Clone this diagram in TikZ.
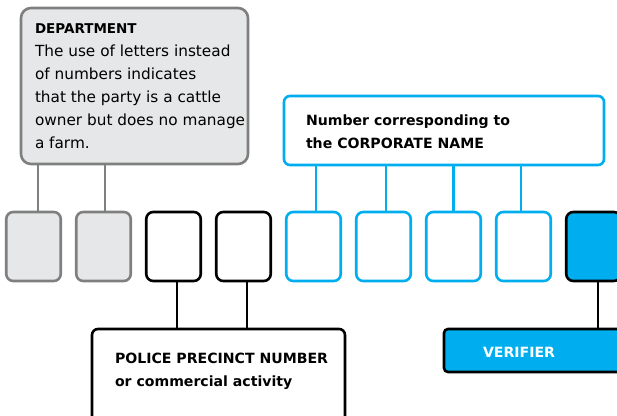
\documentclass[tikz,border=0pt]{standalone}
\usepackage{fontspec}
\setmainfont{DejaVu Sans}
\usetikzlibrary{calc}
\definecolor{cyanb}{HTML}{00AEEF}
\definecolor{grayfill}{HTML}{E6E7E8}
\definecolor{graystroke}{HTML}{7F7F7F}
\tikzset{
  every node/.style={inner sep=0pt, outer sep=0pt},
  sq/.style={rectangle, rounded corners=7pt, line width=2.6pt, minimum width=54.5pt, minimum height=69pt},
  graysq/.style={sq, draw=graystroke, fill=grayfill},
  blacksq/.style={sq, draw=black, fill=white},
  cyansq/.style={sq, draw=cyanb, fill=white},
  versq/.style={sq, draw=black, fill=cyanb},
  conn/.style={line width=2.6pt},
  txt/.style={anchor=base west, font=\fontsize{15.3}{23}\selectfont},
  btxt/.style={anchor=base west, font=\fontsize{14.1}{22}\selectfont\bfseries},
  htxt/.style={anchor=base west, font=\fontsize{13.5}{22}\selectfont\bfseries},
}
\begin{document}
\begin{tikzpicture}[x=1pt, y=-1pt]
\useasboundingbox (0,0) rectangle (617,415);
% big boxes
\node[rectangle, rounded corners=10pt, line width=2.6pt, draw=graystroke, fill=grayfill,
      minimum width=227pt, minimum height=156pt] (dept) at (134.5,86) {};
\node[rectangle, rounded corners=6pt, line width=2.6pt, draw=cyanb, fill=white,
      minimum width=320pt, minimum height=69pt] (corp) at (444,130.5) {};
\node[rectangle, rounded corners=6pt, line width=2.6pt, draw=black, fill=white,
      minimum width=253pt, minimum height=101pt] (police) at (218.5,379.5) {};
\node[rectangle, rounded corners=4pt, line width=2.6pt, draw=black, fill=cyanb,
      minimum width=256pt, minimum height=43pt] (verif) at (572,350.5) {};
% small boxes
\node[graysq]  (b1) at (33.5,246.5) {};
\node[graysq]  (b2) at (103.5,246.5) {};
\node[blacksq] (b3) at (173.5,246.5) {};
\node[blacksq] (b4) at (243.5,246.5) {};
\node[cyansq]  (b5) at (313.5,246.5) {};
\node[cyansq]  (b6) at (383.5,246.5) {};
\node[cyansq]  (b7) at (453.5,246.5) {};
\node[cyansq]  (b8) at (523.5,246.5) {};
\node[versq]   (b9) at (593.5,246.5) {};
% connectors
\draw[conn, graystroke] ([xshift=4.5pt]b1.north) -- ([xshift=4.5pt]b1.north |- dept.south);
\draw[conn, graystroke] ([xshift=1.5pt]b2.north) -- ([xshift=1.5pt]b2.north |- dept.south);
\draw[conn, cyanb] ([xshift=2.5pt]b5.north) -- ([xshift=2.5pt]b5.north |- corp.south);
\draw[conn, cyanb] ([xshift=2.5pt]b6.north) -- ([xshift=2.5pt]b6.north |- corp.south);
\draw[conn, cyanb] (b7.north) -- (b7.north |- corp.south);
\draw[conn, cyanb] ([xshift=-2.5pt]b8.north) -- ([xshift=-2.5pt]b8.north |- corp.south);
\draw[conn, black] ([xshift=3.5pt]b3.south) -- ([xshift=3.5pt]b3.south |- police.north);
\draw[conn, black] ([xshift=3.5pt]b4.south) -- ([xshift=3.5pt]b4.south |- police.north);
\draw[conn, black] ([xshift=4.5pt]b9.south) -- ([xshift=4.5pt]b9.south |- verif.north);
% texts
\node[htxt] (dt) at (35,33) {DEPARTMENT};
\node[txt] (d1) at (35,56.5) {The use of letters instead};
\node[txt] (d2) at (35,79.5) {of numbers indicates};
\node[txt] (d3) at (35,102.5) {that the party is a cattle};
\node[txt] (d4) at (35,125.5) {owner but does no manage};
\node[txt] (d5) at (35,148) {a farm.};
\node[btxt] (c1) at (306,125) {Number corresponding to};
\node[btxt] (c2) at (306,148) {the CORPORATE NAME};
\node[btxt] (p1) at (115,363) {POLICE PRECINCT NUMBER};
\node[btxt] (p2) at (115,386) {or commercial activity};
\node[btxt, text=white] (vt) at (483,357) {VERIFIER};
\end{tikzpicture}
\end{document}
